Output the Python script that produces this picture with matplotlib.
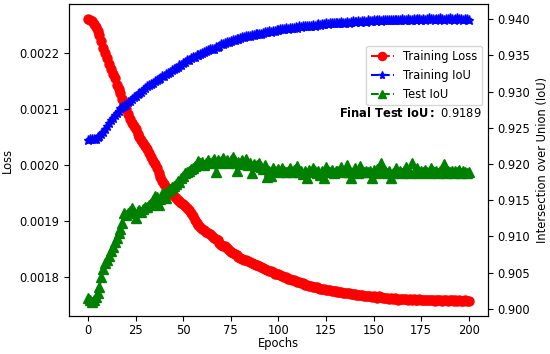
import numpy as np
import matplotlib
matplotlib.use("Agg")
import matplotlib.pyplot as plt

plt.rcParams['font.size'] = 8.3

# loss values in units of 1e-3
train_loss = [
    2.262, 2.260, 2.257, 2.252, 2.247, 2.240, 2.232, 2.222, 2.210, 2.200,
    2.191, 2.180, 2.172, 2.163, 2.155, 2.144, 2.136, 2.128, 2.118, 2.110,
    2.100, 2.091, 2.082, 2.076, 2.070, 2.064, 2.056, 2.050, 2.044, 2.040,
    2.034, 2.029, 2.022, 2.015, 2.008, 2.001, 1.994, 1.985, 1.978, 1.971,
    1.966, 1.961, 1.956, 1.952, 1.948, 1.945, 1.941, 1.938, 1.936, 1.933,
    1.930, 1.927, 1.924, 1.920, 1.914, 1.908, 1.902, 1.897, 1.893, 1.890,
    1.886, 1.884, 1.880, 1.878, 1.877, 1.873, 1.870, 1.868, 1.866, 1.861,
    1.857, 1.856, 1.855, 1.852, 1.848, 1.845, 1.843, 1.841, 1.839, 1.836,
    1.834, 1.832, 1.831, 1.830, 1.828, 1.826, 1.824, 1.823, 1.822, 1.821,
    1.820, 1.818, 1.816, 1.814, 1.813, 1.811, 1.810, 1.808, 1.806, 1.806,
    1.805, 1.803, 1.801, 1.800, 1.799, 1.797, 1.796, 1.795, 1.795, 1.793,
    1.791, 1.790, 1.789, 1.789, 1.786, 1.785, 1.784, 1.784, 1.782, 1.781,
    1.781, 1.780, 1.779, 1.778, 1.778, 1.777, 1.777, 1.776, 1.775, 1.775,
    1.774, 1.773, 1.773, 1.773, 1.772, 1.771, 1.771, 1.772, 1.770, 1.769,
    1.770, 1.768, 1.767, 1.768, 1.767, 1.766, 1.766, 1.765, 1.766, 1.764,
    1.765, 1.764, 1.763, 1.765, 1.764, 1.762, 1.763, 1.762, 1.761, 1.762,
    1.761, 1.762, 1.760, 1.759, 1.761, 1.760, 1.760, 1.761, 1.759, 1.760,
    1.759, 1.760, 1.759, 1.758, 1.760, 1.759, 1.758, 1.759, 1.758, 1.759,
    1.758, 1.759, 1.757, 1.758, 1.758, 1.759, 1.757, 1.758, 1.758, 1.757,
    1.758, 1.758, 1.757, 1.758, 1.757, 1.758, 1.757, 1.757, 1.758, 1.757,
    1.757,
]

train_iou = [
    .9233, .9234, .9234, .9235, .9235, .9237, .9239, .9241, .9244, .9248,
    .9252, .9257, .9261, .9264, .9267, .9270, .9273, .9277, .9279, .9280,
    .9282, .9285, .9287, .9290, .9292, .9294, .9296, .9298, .9300, .9302,
    .9305, .9307, .9309, .9310, .9312, .9314, .9316, .9317, .9319, .9321,
    .9322, .9324, .9326, .9327, .9329, .9331, .9332, .9334, .9336, .9337,
    .9339, .9341, .9343, .9344, .9346, .9347, .9348, .9350, .9351, .9352,
    .9353, .9355, .9356, .9357, .9358, .9358, .9359, .9361, .9362, .9363,
    .9365, .9366, .9367, .9368, .9368, .9369, .9371, .9371, .9372, .9373,
    .9374, .9375, .9375, .9376, .9377, .9376, .9378, .9378, .9379, .9379,
    .9380, .9380, .9381, .9382, .9382, .9383, .9382, .9384, .9384, .9385,
    .9385, .9386, .9386, .9386, .9387, .9386, .9388, .9388, .9388, .9389,
    .9388, .9390, .9389, .9390, .9390, .9391, .9390, .9391, .9392, .9391,
    .9392, .9393, .9392, .9393, .9393, .9394, .9393, .9394, .9395, .9394,
    .9395, .9394, .9395, .9396, .9395, .9395, .9396, .9395, .9396, .9397,
    .9396, .9396, .9397, .9396, .9397, .9397, .9396, .9398, .9397, .9397,
    .9398, .9397, .9398, .9398, .9397, .9398, .9399, .9398, .9398, .9399,
    .9398, .9399, .9399, .9398, .9399, .9400, .9399, .9399, .9400, .9399,
    .9399, .9400, .9399, .9400, .9400, .9399, .9400, .9399, .9400, .9401,
    .9400, .9400, .9399, .9400, .9400, .9401, .9400, .9399, .9400, .9400,
    .9401, .9400, .9399, .9400, .9401, .9400, .9400, .9399, .9400, .9400,
    .9399,
]

test_iou = [
    .9015, .9013, .9010, .9012, .9016, .9022, .9030, .9044, .9055, .9063,
    .9068, .9073, .9080, .9086, .9092, .9098, .9105, .9110, .9118, .9133,
    .9130, .9132, .9135, .9139, .9134, .9126, .9135, .9137, .9134, .9138,
    .9140, .9141, .9143, .9146, .9150, .9156, .9154, .9143, .9152, .9158,
    .9160, .9153, .9163, .9165, .9168, .9170, .9173, .9176, .9175, .9181,
    .9184, .9187, .9189, .9191, .9193, .9194, .9197, .9200, .9204, .9201,
    .9203, .9199, .9202, .9205, .9201, .9203, .9207, .9189, .9206, .9202,
    .9204, .9208, .9203, .9205, .9202, .9206, .9209, .9204, .9190, .9203,
    .9201, .9205, .9200, .9207, .9198, .9202, .9188, .9200, .9197, .9199,
    .9202, .9196, .9193, .9198, .9182, .9190, .9183, .9194, .9190, .9191,
    .9193, .9189, .9195, .9190, .9189, .9191, .9194, .9189, .9192, .9190,
    .9197, .9189, .9191, .9186, .9190, .9180, .9192, .9189, .9194, .9191,
    .9188, .9191, .9185, .9190, .9181, .9196, .9190, .9189, .9192, .9188,
    .9190, .9190, .9191, .9196, .9189, .9191, .9198, .9189, .9181, .9189,
    .9195, .9190, .9188, .9197, .9191, .9189, .9190, .9189, .9190, .9181,
    .9192, .9188, .9193, .9190, .9201, .9189, .9191, .9187, .9190, .9180,
    .9188, .9190, .9195, .9189, .9191, .9188, .9190, .9196, .9189, .9188,
    .9201, .9189, .9190, .9194, .9188, .9190, .9189, .9192, .9189, .9188,
    .9195, .9190, .9189, .9191, .9188, .9190, .9189, .9200, .9188, .9190,
    .9189, .9191, .9188, .9190, .9189, .9192, .9188, .9190, .9189, .9188,
    .9189,
]

epochs = np.arange(len(train_loss))
loss = np.array(train_loss) * 1e-3

fig = plt.figure(figsize=(5.5, 3.54), dpi=100)
ax1 = fig.add_axes([0.1255, 0.1073, 0.7615, 0.8814])
ax2 = ax1.twinx()

l1, = ax1.plot(epochs, loss, 'o--', color='red', ms=6.5, lw=1.5, label='Training Loss')
l2, = ax2.plot(epochs, train_iou, '*--', color='blue', ms=6.5, lw=1.5, label='Training IoU')
l3, = ax2.plot(epochs, test_iou, '^--', color='green', ms=6.5, lw=1.5, label='Test IoU')

ax1.set_xlim(-10, 210)
ax1.set_ylim(0.001730, 0.002288)
ax2.set_ylim(0.89903, 0.94207)
ax1.tick_params(axis='x', pad=2.5)
ax1.set_xlabel('Epochs', labelpad=0)
ax1.set_ylabel('Loss')
ax2.set_ylabel('Intersection over Union (IoU)')

ax2.legend(handles=[l1, l2, l3], loc='upper right', bbox_to_anchor=(1.0, 0.885),
           markerscale=0.9)
ax2.text(0.986, 0.65, r'$\bf{Final\ Test\ IoU:}$ 0.9189', transform=ax2.transAxes,
         ha='right', va='center')

fig.savefig('out.png', dpi=100)
